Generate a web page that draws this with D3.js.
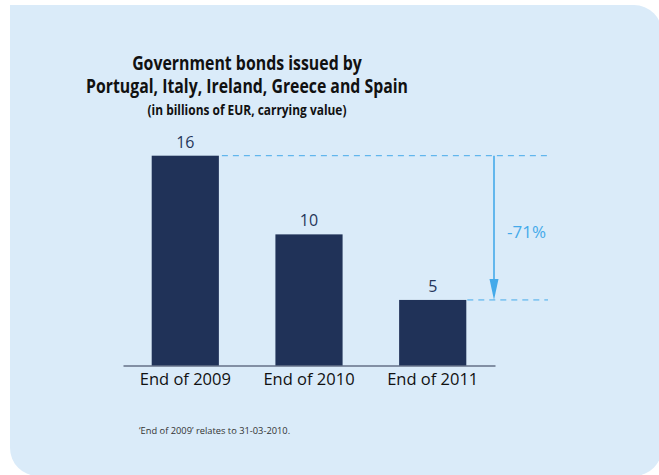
<!DOCTYPE html>
<html>
<head>
<meta charset="utf-8">
<script src="https://cdn.jsdelivr.net/npm/d3@7"></script>
<style>
  html, body { margin: 0; padding: 0; background: #ffffff; }
  svg { display: block; }
  text { font-family: "Open Sans", "Noto Sans", sans-serif; }
</style>
</head>
<body>
<div id="chart"></div>
<script>
// Carrying value of GIIPS government bonds (billions of EUR)
const categories = ["End of 2009", "End of 2010", "End of 2011"];
const values = [16, 10, 5];
const changeLabel = "-71%";
const titleLines = ["Government bonds issued by", "Portugal, Italy, Ireland, Greece and Spain"];
const subtitle = "(in billions of EUR, carrying value)";
const footnote = "\u2018End of 2009\u2019 relates to 31-03-2010.";

const W = 659, H = 475;
const svg = d3.select("#chart").append("svg").attr("width", W).attr("height", H);

// Panel: square top-left corner, rounded elsewhere
const px0 = 10, py0 = 5, px1 = 662, py1 = 476, r = 28;
svg.append("path")
  .attr("d", `M${px0},${py0} H${px1 - r} A${r},${r} 0 0 1 ${px1},${py0 + r} V${py1 - r} A${r},${r} 0 0 1 ${px1 - r},${py1} H${px0 + r} A${r},${r} 0 0 1 ${px0},${py1 - r} Z`)
  .attr("fill", "#daebf9");

// Titles, set in a condensed bold style (horizontal squeeze to a fixed width)
const titleCx = 247;
const titleSpec = [
  { text: titleLines[0], y: 70, size: 19.5, width: 230 },
  { text: titleLines[1], y: 93, size: 19.5, width: 322 },
  { text: subtitle, y: 115, size: 14, width: 199 }
];
titleSpec.forEach(s => {
  const t = svg.append("text")
    .attr("text-anchor", "middle")
    .attr("font-size", s.size).attr("font-weight", 700).attr("fill", "#111111")
    .text(s.text);
  const k = s.width / t.node().getComputedTextLength();
  t.attr("transform", `translate(${titleCx},${s.y}) scale(${k},1)`);
});

// Scales
const x = d3.scaleBand().domain(categories).range([123, 495]).paddingInner(0.457).paddingOuter(0.232);
const y = d3.scaleLinear().domain([0, 16]).range([365.5, 155.7]);

// Bars
svg.append("g").selectAll("rect").data(values).join("rect")
  .attr("x", (d, i) => x(categories[i]))
  .attr("width", x.bandwidth())
  .attr("y", d => y(d))
  .attr("height", d => y(0) - y(d))
  .attr("fill", "#203258");

// Value labels
svg.append("g").selectAll("text").data(values).join("text")
  .attr("x", (d, i) => x(categories[i]) + x.bandwidth() / 2)
  .attr("y", d => y(d) - 8)
  .attr("text-anchor", "middle")
  .attr("font-size", 16)
  .attr("fill", "#26365a")
  .text(d => d);

// Category axis
const axis = svg.append("g").attr("transform", `translate(0,${y(0)})`)
  .call(d3.axisBottom(x).tickSize(0).tickPadding(8));
axis.select(".domain").attr("stroke", "#2a3550").attr("stroke-width", 1.2);
axis.selectAll("text").attr("font-size", 16.5).attr("fill", "#111111")
  .attr("font-family", "\"Open Sans\", sans-serif");

// Change annotation: dashed reference lines and arrow
const accent = "#45aaea";
const first = values[0], last = values[values.length - 1];
const arrowX = 494, lineEnd = 548;
svg.append("line")
  .attr("x1", x(categories[0]) + x.bandwidth() + 3).attr("x2", lineEnd)
  .attr("y1", y(first)).attr("y2", y(first))
  .attr("stroke", accent).attr("stroke-width", 1).attr("stroke-dasharray", "6,5");
svg.append("line")
  .attr("x1", x(categories[2]) + x.bandwidth() + 1).attr("x2", lineEnd)
  .attr("y1", y(last)).attr("y2", y(last))
  .attr("stroke", accent).attr("stroke-width", 1).attr("stroke-dasharray", "6,5");
svg.append("line")
  .attr("x1", arrowX).attr("x2", arrowX)
  .attr("y1", y(first)).attr("y2", y(last) - 18)
  .attr("stroke", accent).attr("stroke-width", 1.6);
svg.append("path")
  .attr("d", `M${arrowX - 4.5},${y(last) - 21} L${arrowX + 4.5},${y(last) - 21} L${arrowX},${y(last)} Z`)
  .attr("fill", accent);
svg.append("text")
  .attr("x", 507).attr("y", 238)
  .attr("font-size", 17).attr("fill", accent)
  .text(changeLabel);

// Footnote
svg.append("text")
  .attr("x", 139).attr("y", 434)
  .attr("font-size", 9.3).attr("fill", "#333333")
  .text(footnote);
</script>
</body>
</html>
